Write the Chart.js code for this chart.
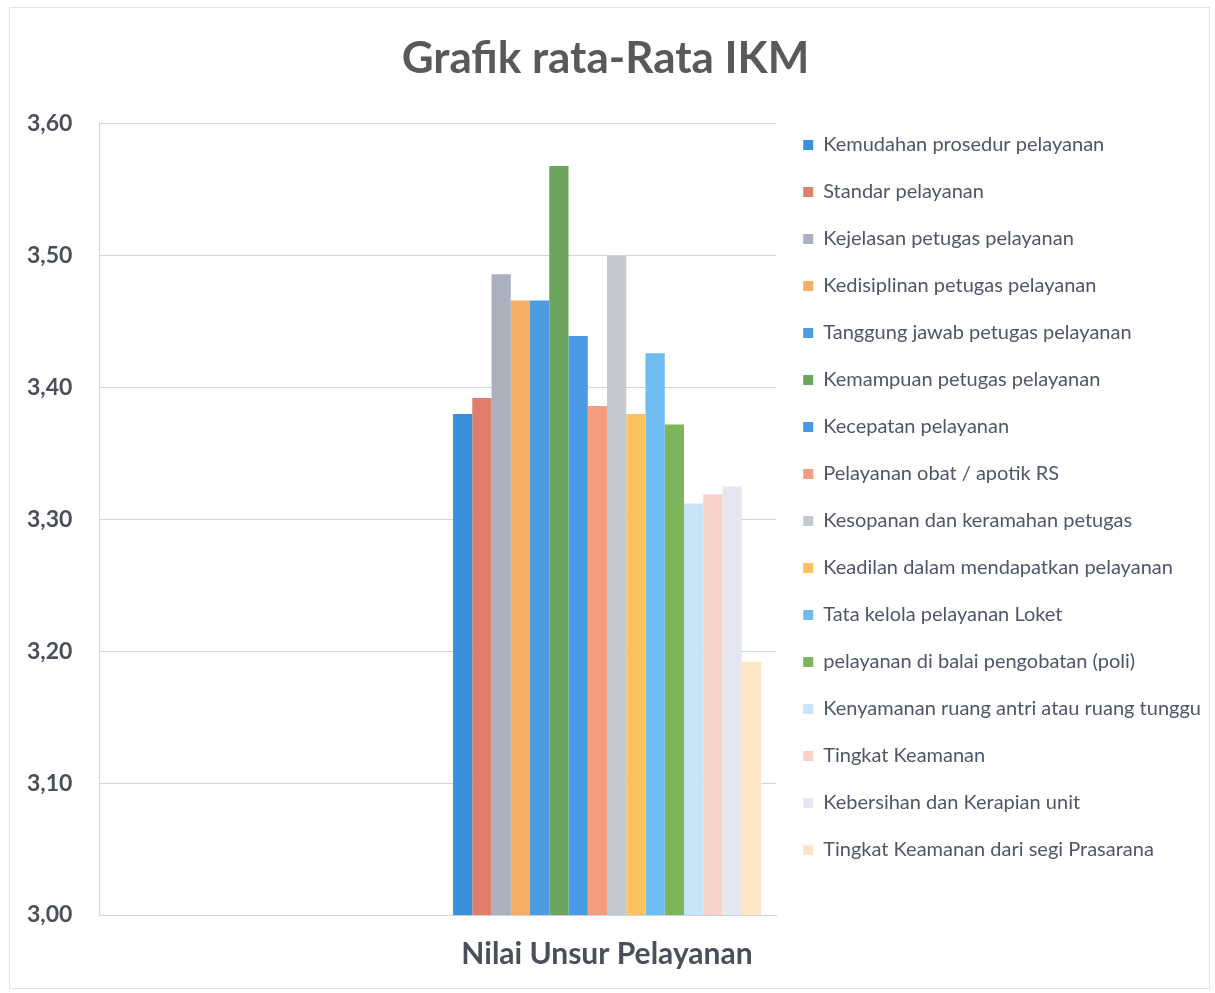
<!DOCTYPE html>
<html>
<head>
<meta charset="utf-8">
<title>Grafik rata-Rata IKM</title>
<script src="https://cdn.jsdelivr.net/npm/chart.js@4/dist/chart.umd.min.js"></script>
<style>
  body { margin: 0; background: #fff; }
  .wrap { position: relative; width: 1215px; height: 993px; }
  .frame { position: absolute; left: 9px; top: 7px; width: 1199px; height: 980px;
           border: 1px solid #dde3ec; pointer-events: none; }
</style>
</head>
<body>
<div class="wrap"><canvas id="ikm-chart"></canvas><div class="frame"></div></div>
<script>
// kategori (satu grup; slot kosong di kiri seperti aslinya)
const categories = ["", "Nilai Unsur Pelayanan"];

const unsur = [
    "Kemudahan prosedur pelayanan",
    "Standar pelayanan",
    "Kejelasan petugas pelayanan",
    "Kedisiplinan petugas pelayanan",
    "Tanggung jawab petugas pelayanan",
    "Kemampuan petugas pelayanan",
    "Kecepatan pelayanan",
    "Pelayanan obat / apotik RS",
    "Kesopanan dan keramahan petugas",
    "Keadilan dalam mendapatkan pelayanan",
    "Tata kelola pelayanan Loket",
    "pelayanan di balai pengobatan (poli)",
    "Kenyamanan ruang antri atau ruang tunggu",
    "Tingkat Keamanan",
    "Kebersihan dan Kerapian unit",
    "Tingkat Keamanan dari segi Prasarana"
];

const nilai = [3.380, 3.392, 3.486, 3.466, 3.466, 3.568, 3.439, 3.386,
               3.500, 3.380, 3.426, 3.372, 3.312, 3.319, 3.325, 3.192];

const yTicks = [3.00, 3.10, 3.20, 3.30, 3.40, 3.50, 3.60];

const warna = ["#3b8fd8", "#e07d6c", "#aab0bd", "#f4ae66", "#4d9ce0", "#6ca55d",
               "#4999e4", "#f49c7e", "#c3c8d1", "#fbc25e", "#6dbdf2", "#7eb45c",
               "#c9e3f7", "#f8d2ca", "#e4e8ee", "#fde6c3"];

const fontFam = "Lato, 'Open Sans', sans-serif";

window.onload = function(){

    let datasets = unsur.map((nama, i) => ({
        label: nama,
        data: [null, nilai[i]],
        backgroundColor: warna[i],
        borderWidth: 0,
        barPercentage: 1.0,
        categoryPercentage: 0.91
    }));

    let ikmChart = new Chart(
        document.getElementById('ikm-chart'),{
            type: 'bar',
            data: {
                labels: categories,
                datasets: datasets
            },
            options: {
                maintainAspectRatio: false,
                responsive: true,
                animation: false,
                layout: {
                    padding: {top: 2, left: 0, right: 4, bottom: 0}
                },
                plugins: {
                    title: {
                        display: true,
                        text: 'Grafik rata-Rata IKM',
                        color: '#595959',
                        font: {family: fontFam, size: 44, weight: 'bold'},
                        padding: {top: 30, bottom: 39}
                    },
                    legend: {
                        position: 'right',
                        align: 'center',
                        maxWidth: 480,
                        labels: {
                            boxWidth: 10,
                            boxHeight: 10,
                            padding: 27,
                            color: '#50566a',
                            font: {family: fontFam, size: 20}
                        }
                    },
                    tooltip: {enabled: false}
                },
                scales: {
                    x: {
                        grid: {display: false, drawTicks: false},
                        border: {display: true, color: '#c9d2de'},
                        ticks: {
                            color: '#4a4f5a',
                            padding: 21,
                            font: {family: fontFam, size: 30, weight: 'bold'}
                        }
                    },
                    y: {
                        min: 3.0,
                        max: 3.6,
                        afterBuildTicks: function(axis){
                            axis.ticks = yTicks.map(v => ({value: v}));
                        },
                        grid: {color: '#ccd6e2', drawTicks: false},
                        border: {display: true, color: '#ccd6e2'},
                        ticks: {
                            color: '#4a4f5a',
                            padding: 27,
                            font: {family: fontFam, size: 23, weight: 'bold'},
                            callback: function(v){
                                return Number(v).toFixed(2).replace('.', ',');
                            }
                        }
                    }
                }
            }
        }
    );

}
</script>
</body>
</html>
